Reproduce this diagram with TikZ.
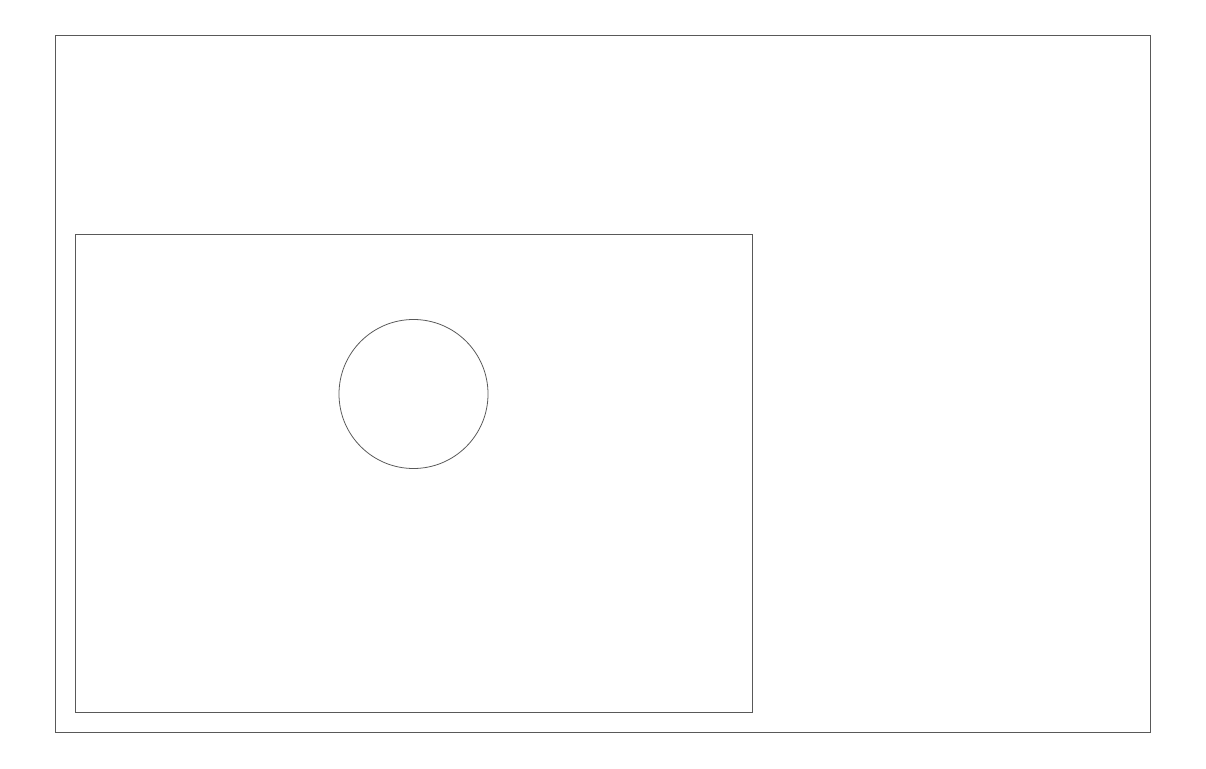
\documentclass[tikz,border=0pt]{standalone}
\usepackage{tikz}
\tikzset{outline/.style={draw=black!65, line width=0.45pt}}

\begin{document}
\begin{tikzpicture}[x=0.02cm, y=0.02cm]
    
    %Frame
    \useasboundingbox (0,0) rectangle (1206,768);
    \draw[outline] (55,35.5) rectangle (1150.5,732.5);
    
    %Panel and hole
    \draw[outline] (75,56) rectangle (752,534);
    \draw[outline] (413.5,374) circle (74.5);
    
\end{tikzpicture}
\end{document}
